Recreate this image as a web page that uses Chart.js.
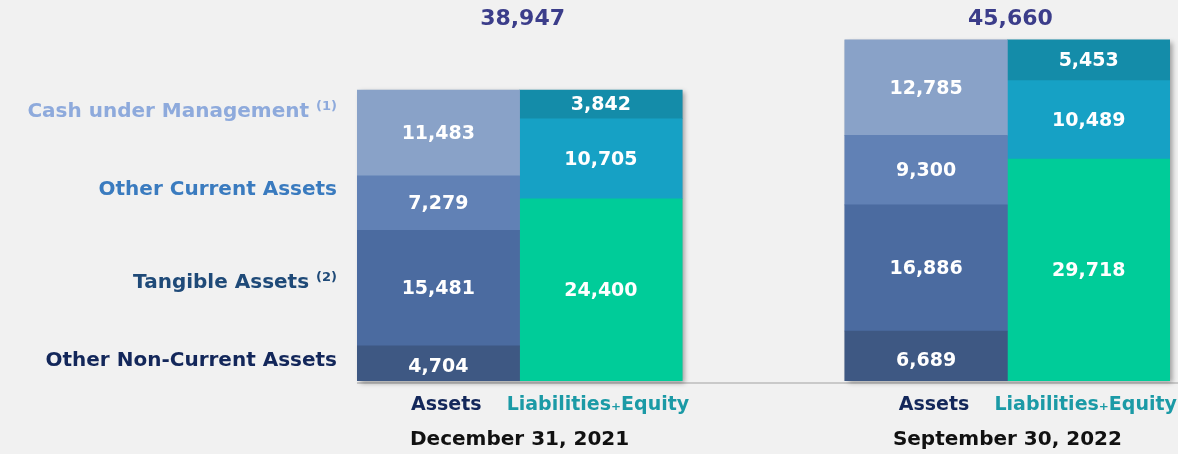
<!DOCTYPE html>
<html>
<head>
<meta charset="utf-8">
<script src="https://cdn.jsdelivr.net/npm/chart.js@4.4.1/dist/chart.umd.min.js"></script>
<style>
  html, body { margin: 0; padding: 0; background: #f1f1f1; }
  #wrap { width: 1178px; height: 454px; position: relative; }
</style>
</head>
<body>
<div id="wrap"><canvas id="bs"></canvas></div>
<script>
// Balance sheet — two periods, Assets vs Liabilities+Equity
const categories   = ['Assets', 'Liabilities+Equity', '', 'Assets', 'Liabilities+Equity'];
const periods      = ['December 31, 2021', 'September 30, 2022'];
const totals       = [38947, 45660];

const otherNonCurrent = [4704, 6689];
const tangible        = [15481, 16886];
const otherCurrent    = [7279, 9300];
const cashUnderMgmt   = [11483, 12785];

const leBottom = [24400, 29718];
const leMiddle = [10705, 10489];
const leTop    = [3842, 5453];

const assetNames = ['Other Non-Current Assets', 'Tangible Assets', 'Other Current Assets', 'Cash under Management'];
const assetNotes = ['', '(2)', '', '(1)'];

const COLORS = {
  nonCurrent: '#3e5883', tangible: '#4b6ba0', current: '#6181b5', cash: '#89a2c8',
  leBottom: '#00cc99', leMiddle: '#16a1c5', leTop: '#148ca9',
  labelNonCurrent: '#13275a', labelTangible: '#1f4a78', labelCurrent: '#3a7bbf', labelCash: '#8eaadc',
  total: '#3b3d8a', assetsTick: '#13275a', leTick: '#1b9aa6', date: '#111111',
};
const FONT = '"DejaVu Sans", sans-serif';

// put values on the Assets (0,3) or L+E (1,4) columns
const onAssets = v => [v[0], null, null, v[1], null];
const onLE     = v => [null, v[0], null, null, v[1]];

const datasets = [
  { label: assetNames[0], data: onAssets(otherNonCurrent), backgroundColor: COLORS.nonCurrent },
  { label: assetNames[1], data: onAssets(tangible),        backgroundColor: COLORS.tangible },
  { label: assetNames[2], data: onAssets(otherCurrent),    backgroundColor: COLORS.current },
  { label: assetNames[3], data: onAssets(cashUnderMgmt),   backgroundColor: COLORS.cash },
  { label: 'L+E 1', data: onLE(leBottom), backgroundColor: COLORS.leBottom },
  { label: 'L+E 2', data: onLE(leMiddle), backgroundColor: COLORS.leMiddle },
  { label: 'L+E 3', data: onLE(leTop),    backgroundColor: COLORS.leTop },
].map(d => ({ ...d, stack: 's', barPercentage: 1, categoryPercentage: 1, borderWidth: 0 }));

const fmt = v => v.toLocaleString('en-US');

// shadow + baseline behind the bars
const backdrop = {
  id: 'backdrop',
  beforeDatasetsDraw(chart) {
    const { ctx, scales: { x, y }, chartArea } = chart;
    const half = (x.getPixelForValue(1) - x.getPixelForValue(0)) / 2;
    ctx.save();
    ctx.strokeStyle = '#c9c9c9';
    ctx.lineWidth = 2;
    ctx.beginPath();
    ctx.moveTo(chartArea.left, y.getPixelForValue(0) + 2);
    ctx.lineTo(chart.width, y.getPixelForValue(0) + 2);
    ctx.stroke();
    [0, 3].forEach((i, g) => {
      ctx.shadowColor = 'rgba(0,0,0,0.35)';
      ctx.shadowBlur = 5;
      ctx.shadowOffsetX = 3;
      ctx.shadowOffsetY = 2;
      ctx.fillStyle = '#999';
      const l = x.getPixelForValue(i) - half, r = x.getPixelForValue(i + 1) + half;
      const top = y.getPixelForValue(totals[g]);
      ctx.fillRect(l, top, r - l, y.getPixelForValue(0) - top);
    });
    ctx.restore();
  },
};

// all the text: values, totals, axis labels, dates, row names
const texts = {
  id: 'texts',
  afterDatasetsDraw(chart) {
    const { ctx, scales: { x, y } } = chart;
    ctx.save();
    ctx.textAlign = 'center';
    ctx.textBaseline = 'middle';

    // segment values
    ctx.fillStyle = '#ffffff';
    ctx.font = 'bold 19px ' + FONT;
    chart.data.datasets.forEach((ds, di) => {
      chart.getDatasetMeta(di).data.forEach((bar, i) => {
        const v = ds.data[i];
        if (v == null) return;
        const yTop = bar.y, yBot = bar.base;
        let yc = (yTop + yBot) / 2;
        if (di === 0) yc = yBot - (yBot - yTop) * 0.42;       // bottom asset label sits low
        ctx.fillText(fmt(v), bar.x, yc + 1);
      });
    });

    // totals at top
    ctx.fillStyle = COLORS.total;
    ctx.font = 'bold 22px ' + FONT;
    totals.forEach((t, g) => {
      const cx = (x.getPixelForValue(g * 3) + x.getPixelForValue(g * 3 + 1)) / 2;
      ctx.fillText(fmt(t), cx + 3, 19);
    });

    // column labels
    const base = y.getPixelForValue(0);
    ctx.font = 'bold 19px ' + FONT;
    [0, 1, 3, 4].forEach(i => {
      const cx = x.getPixelForValue(i);
      if (i % 3 === 0) {
        ctx.fillStyle = COLORS.assetsTick;
        ctx.fillText(categories[i], cx + 8, base + 24);
      } else {
        ctx.fillStyle = COLORS.leTick;
        ctx.fillText(categories[i].replace('+', '\u208A'), cx - 3, base + 24);
      }
    });

    // period dates
    ctx.fillStyle = COLORS.date;
    ctx.font = 'bold 20px ' + FONT;
    periods.forEach((p, g) => {
      const cx = (x.getPixelForValue(g * 3) + x.getPixelForValue(g * 3 + 1)) / 2;
      ctx.fillText(p, cx, base + 59);
    });

    // row names to the left of first Assets bar
    const rowColors = [COLORS.labelNonCurrent, COLORS.labelTangible, COLORS.labelCurrent, COLORS.labelCash];
    const shifts = [-3, -5, -13, -21];
    const right = chart.chartArea.left - 20;
    ctx.textAlign = 'right';
    assetNames.forEach((name, di) => {
      const bar = chart.getDatasetMeta(di).data[0];
      const yc = (bar.y + bar.base) / 2 + shifts[di];
      ctx.fillStyle = rowColors[di];
      let r = right;
      if (assetNotes[di]) {
        ctx.font = 'bold 13px ' + FONT;
        ctx.fillText(assetNotes[di], r, yc - 5);
        r -= ctx.measureText(assetNotes[di]).width + 7;
      }
      ctx.font = 'bold 20px ' + FONT;
      ctx.fillText(name, r, yc);
    });
    ctx.restore();
  },
};

new Chart(document.getElementById('bs'), {
  type: 'bar',
  data: { labels: categories, datasets },
  options: {
    responsive: true, maintainAspectRatio: false, animation: false,
    layout: { padding: { left: 357, right: 8, top: 0, bottom: 73 } },
    plugins: { legend: { display: false }, tooltip: { enabled: false } },
    scales: {
      x: { stacked: true, display: false, grid: { display: false } },
      y: { stacked: true, display: false, min: 0, max: 51000, grid: { display: false } },
    },
  },
  plugins: [backdrop, texts],
});
</script>
</body>
</html>
